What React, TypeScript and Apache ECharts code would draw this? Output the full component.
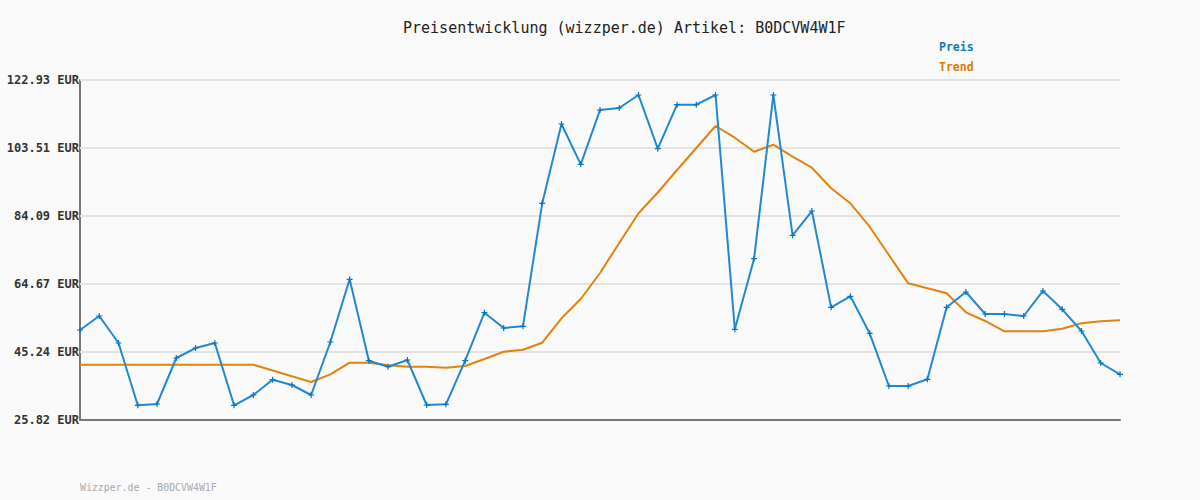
import React, { useEffect, useRef } from "react";
import * as echarts from "echarts";

const categories: string[] = Array.from({ length: 55 }, (_, i) => String(i + 1));

const preis: number[] = [
  51.53, 55.52, 47.81, 30.02, 30.39, 43.53, 46.38, 47.81, 30.02, 32.96,
  37.33, 35.82, 32.96, 48.1, 66.01, 42.76, 41.04, 42.96, 30.1, 30.3,
  42.76, 56.47, 52.1, 52.58, 87.71, 110.36, 98.85, 114.36, 114.93, 118.65,
  103.31, 115.88, 115.88, 118.65, 51.73, 71.89, 118.65, 78.57, 85.51, 58.01,
  61.15, 50.58, 35.53, 35.53, 37.44, 58.01, 62.38, 56.1, 56.1, 55.52,
  62.67, 57.44, 51.24, 42.1, 38.87,
];

const trend: number[] = [
  41.61, 41.61, 41.61, 41.61, 41.61, 41.61, 41.61, 41.61, 41.61, 41.61,
  39.96, 38.3, 36.67, 38.87, 42.19, 42.19, 41.44, 41.04, 41.04, 40.76,
  41.24, 43.24, 45.33, 45.9, 47.9, 54.87, 60.38, 67.81, 76.37, 84.86,
  90.8, 97.23, 103.51, 109.79, 106.45, 102.45, 104.45, 101.02, 97.88, 92.0,
  87.71, 81.03, 72.95, 64.86, 63.44, 62.01, 56.58, 54.1, 51.15, 51.15,
  51.15, 51.9, 53.44, 54.01, 54.3,
];

const tickLabels: string[] = ["25.82", "45.24", "64.67", "84.09", "103.51", "122.93"];

const MONO = "'DejaVu Sans Mono', 'Liberation Mono', monospace";

export default function App() {
  const ref = useRef<HTMLDivElement>(null);
  useEffect(() => {
    document.body.style.margin = "0";
    if (!ref.current) return;
    const chart = echarts.init(ref.current, null, { renderer: "svg" });
    const ticks = tickLabels.map((t) => parseFloat(t));
    chart.setOption({
      animation: false,
      backgroundColor: "#fafafa",
      title: {
        text: "Preisentwicklung (wizzper.de) Artikel: B0DCVW4W1F",
        left: 403,
        top: 20,
        padding: 0,
        textStyle: { fontFamily: MONO, fontSize: 15, fontWeight: "normal", color: "#222" },
      },
      graphic: [
        { type: "text", left: 939, top: 41, style: { text: "Preis", fill: "#0b7cc4", font: `bold 11.5px ${MONO}` } },
        { type: "text", left: 939, top: 61, style: { text: "Trend", fill: "#de7a00", font: `bold 11.5px ${MONO}` } },
        { type: "text", left: 80, top: 482, style: { text: "Wizzper.de - B0DCVW4W1F", fill: "#aaaaaa", font: `9.9px ${MONO}` } },
      ],
      grid: { left: 80, right: 80, top: 80, bottom: 80, containLabel: false },
      xAxis: {
        type: "category",
        data: categories,
        boundaryGap: false,
        axisLine: { show: true, lineStyle: { color: "#777", width: 2 } },
        axisTick: { show: false },
        axisLabel: { show: false },
        splitLine: { show: false },
      },
      yAxis: {
        type: "value",
        min: ticks[0],
        max: ticks[ticks.length - 1],
        axisLine: { show: true, lineStyle: { color: "#777", width: 2 } },
        axisTick: { show: false, customValues: ticks },
        axisLabel: {
          customValues: ticks,
          margin: 1,
          fontFamily: MONO,
          fontSize: 12,
          fontWeight: "bold",
          color: "#333",
          formatter: (v: number) => {
            const idx = ticks.findIndex((t) => Math.abs(t - v) < 1e-6);
            return (idx >= 0 ? tickLabels[idx] : v.toFixed(2)) + " EUR";
          },
        },
        splitLine: { show: false },
      },
      series: [
        {
          name: "Preis",
          type: "line",
          data: preis,
          z: 3,
          symbol: "path://M2 0H3V2H5V3H3V5H2V3H0V2H2Z",
          symbolSize: 6,
          showSymbol: true,
          lineStyle: { color: "#2188d2", width: 2 },
          itemStyle: { color: "#0b74c0" },
          markLine: {
            silent: true,
            symbol: ["none", "none"],
            label: { show: false },
            lineStyle: { color: "#e3e3e3", width: 2, type: "solid" },
            z: 1,
            data: ticks.slice(1).map((t) => ({ yAxis: t })),
          },
        },
        {
          name: "Trend",
          type: "line",
          data: trend,
          z: 2,
          symbol: "none",
          lineStyle: { color: "#e3820c", width: 2 },
        },
      ],
    });
    return () => chart.dispose();
  }, []);
  return <div ref={ref} style={{ width: 1200, height: 500 }} />;
}
